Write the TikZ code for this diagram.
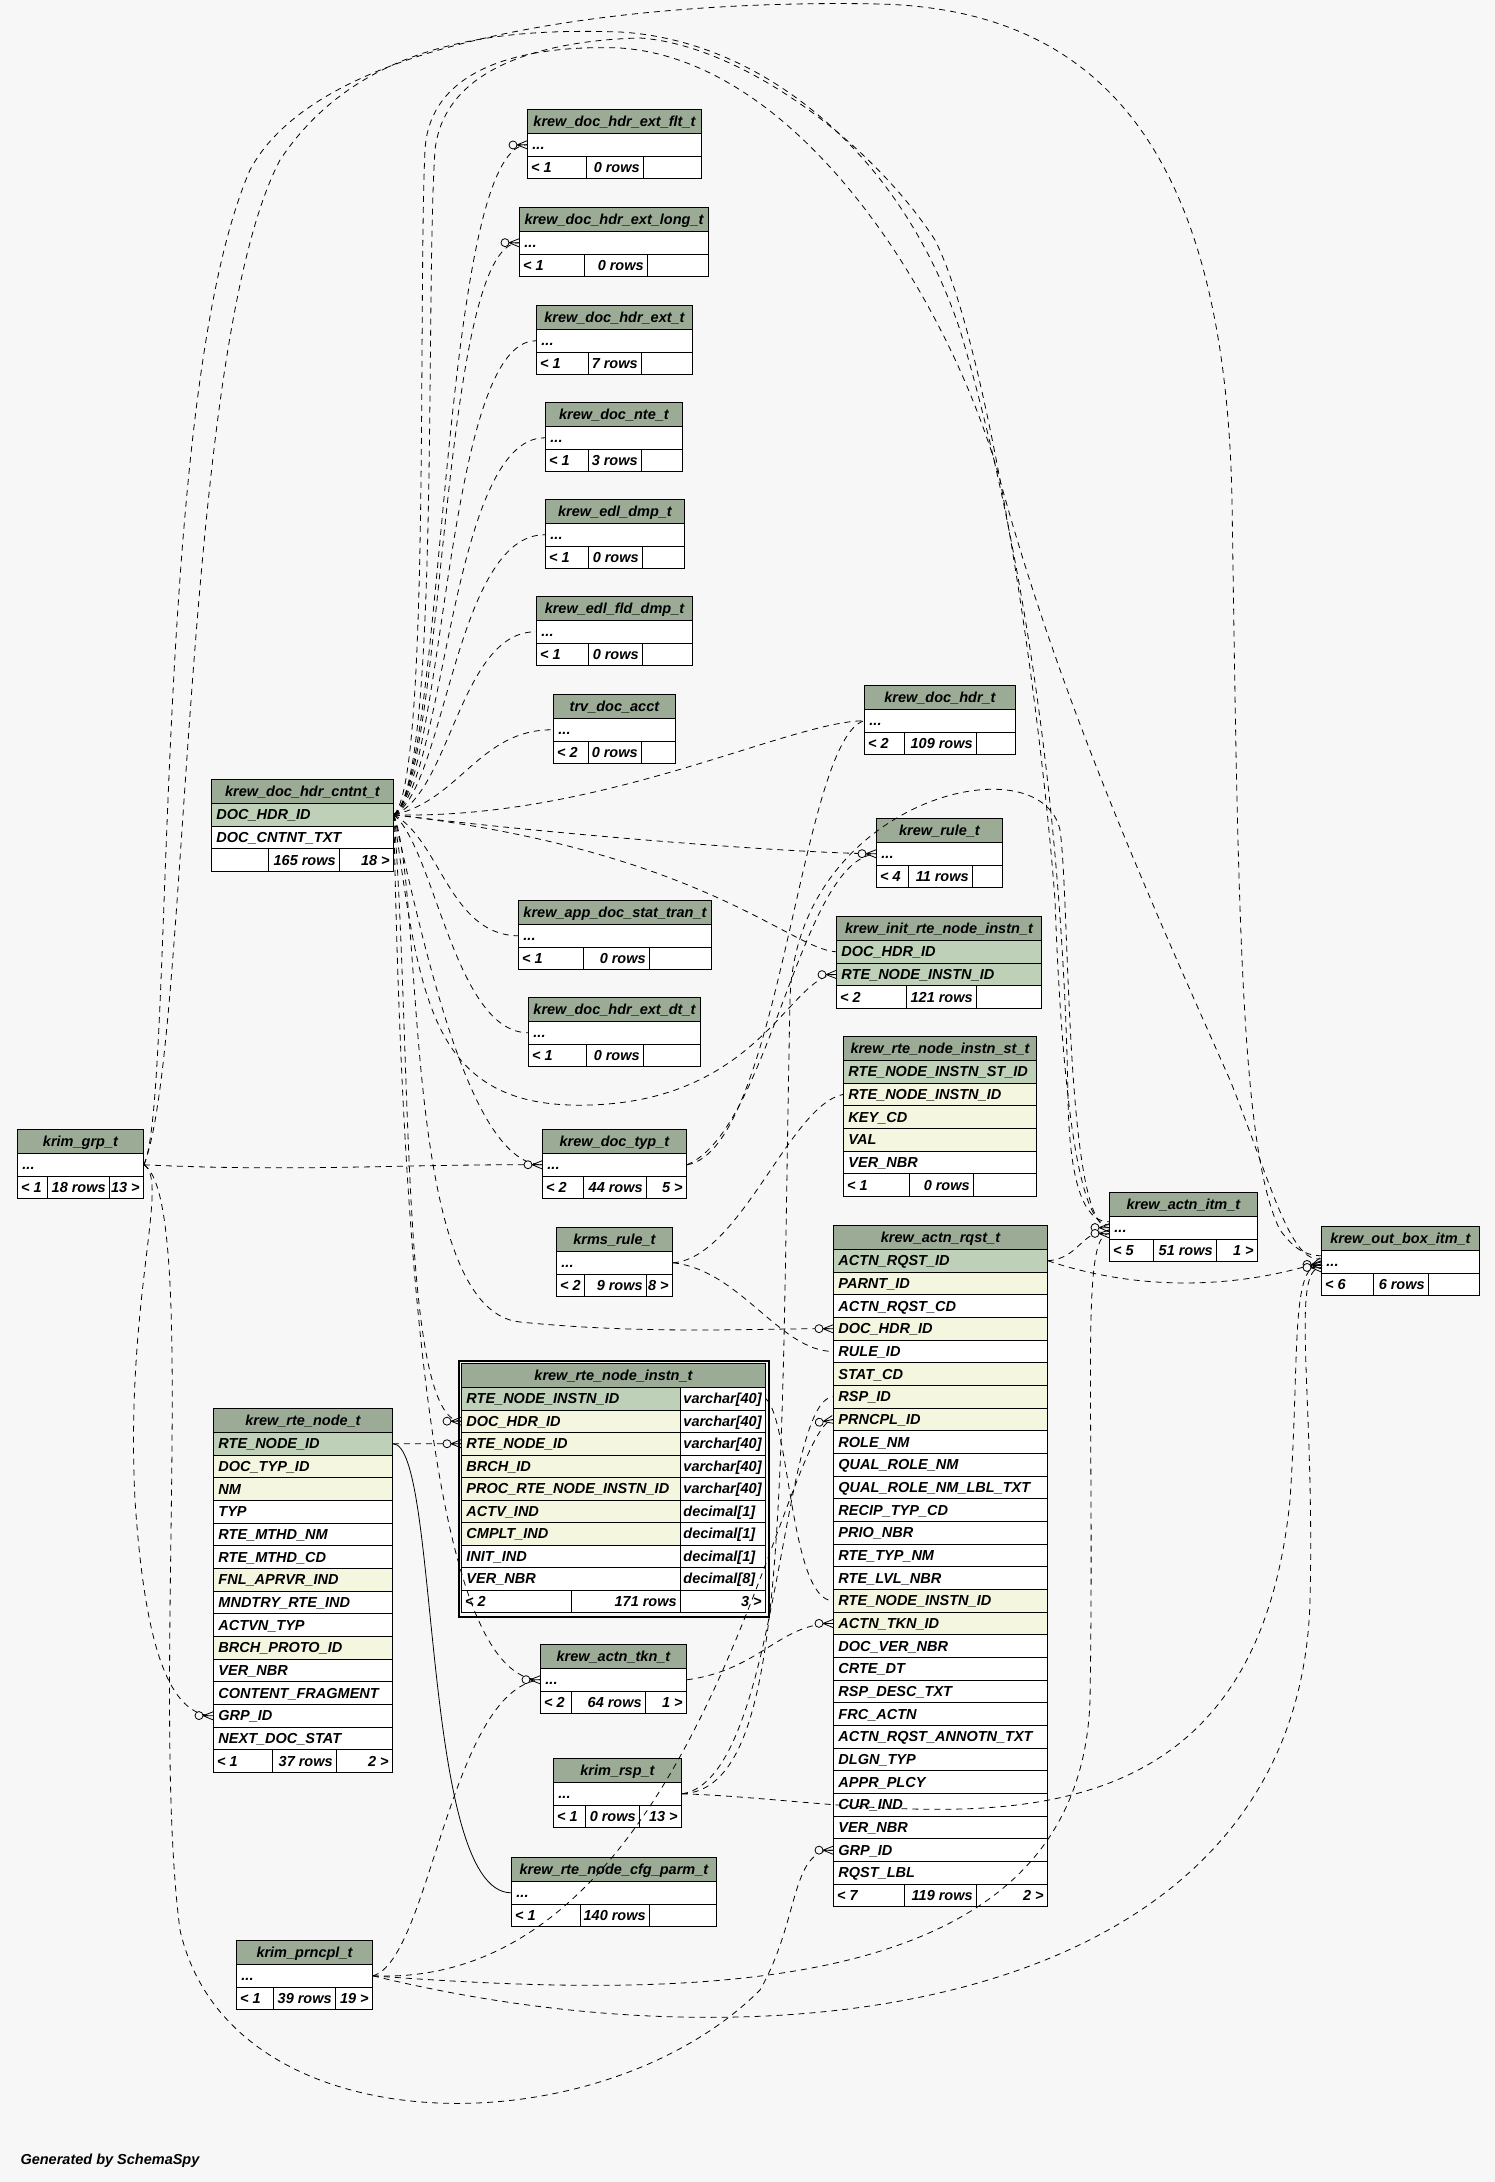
\documentclass[tikz,border=0pt]{standalone}
\usepackage{fontspec}
\setmainfont{Liberation Sans}
\usetikzlibrary{decorations.markings}
\definecolor{bg}{HTML}{F7F7F7}
\definecolor{hdr}{HTML}{9BAB96}
\definecolor{pk}{HTML}{BED1B8}
\definecolor{ix}{HTML}{F5F6DF}
\newcommand\tf{\fontsize{14.5}{17}\selectfont\bfseries\itshape}
\newcommand\ddd{...}
\tikzset{
  x=1pt, y=-1pt,
  cell/.style={draw=black, line width=0.9pt, inner ysep=0pt, minimum height=22.67pt, anchor=north west, font=\tf, text height=12pt, text depth=2pt},
  ctext/.style={font=\tf, inner sep=0pt, text height=12pt, text depth=2pt},
  imp/.style={draw=black, line width=0.8pt, dash pattern=on 6pt off 5pt},
  real/.style={draw=black, line width=0.8pt},
  crow/.style={postaction={decorate, decoration={markings, mark=at position 1 with {
      \draw[solid, line width=0.8pt] (-10pt,0pt) -- (0pt,4pt) (-10pt,0pt) -- (0pt,-4pt) (-10pt,0pt) -- (0pt,0pt);
      \draw[solid, line width=0.8pt, fill=bg] (-14pt,0pt) circle (4pt);}}}},
  onebar/.style={postaction={decorate, decoration={markings, mark=at position 1 with {
      \draw[solid, line width=1.4pt] (-4pt,-5pt) -- (-4pt,5pt);
      \draw[solid, line width=0.8pt] (-10pt,0pt) -- (0pt,0pt);
      \draw[solid, line width=0.8pt, fill=bg] (-14pt,0pt) circle (4pt);}}}},
}
\newcommand\mktab[6]{%
  \xdef\tabxa{#2}\xdef\tabxb{#3}\xdef\tabtop{#4}%
  \pgfmathsetmacro\tw{#3-#2}%
  \pgfmathsetmacro\tww{#3-#2-10}%
  \node[cell, fill=hdr, minimum width=\tw pt, minimum height=24pt, inner xsep=0pt] (#1-h) at (#2,#4) {#5};
  \foreach \rowtxt/\rowcol [count=\i] in {#6} {
    \pgfmathsetmacro\yy{#4+24+(\i-1)*22.67}
    \node[cell, fill=\rowcol, text width=\tww pt, inner xsep=5pt, align=left] (#1-\i) at (#2,\yy) {\rowtxt};
    \xdef\tabn{\i}
  }
}
\newcommand\mkstats[6]{%
  \pgfmathsetmacro\yy{\tabtop+24+\tabn*22.67}%
  \pgfmathsetmacro\wa{#2-\tabxa}%
  \pgfmathsetmacro\wb{#3-#2}%
  \pgfmathsetmacro\wc{\tabxb-#3}%
  \node[cell, fill=white, minimum width=\wa pt, inner xsep=0pt] (#1-sa) at (\tabxa,\yy) {};
  \node[cell, fill=white, minimum width=\wb pt, inner xsep=0pt] (#1-sb) at (#2,\yy) {};
  \node[cell, fill=white, minimum width=\wc pt, inner xsep=0pt] (#1-sc) at (#3,\yy) {};
  \node[ctext, anchor=west] (#1-sat) at ([xshift=4pt]#1-sa.west) {#4};
  \node[ctext, anchor=east] (#1-sbt) at ([xshift=-4pt]#1-sb.east) {#5};
  \node[ctext, anchor=east] (#1-sct) at ([xshift=-4pt]#1-sc.east) {#6};
}
\begin{document}
\catcode`\_=12
\begin{tikzpicture}
\useasboundingbox (0,0) rectangle (1495,2182);
\fill[bg] (0,0) rectangle (1495,2182);

% ---------- tables ----------
\mktab{flt}{527}{701}{109}{krew_doc_hdr_ext_flt_t}{\ddd/white}
\mkstats{flt}{586}{643}{< 1}{0 rows}{}
\mktab{long}{519}{708}{207}{krew_doc_hdr_ext_long_t}{\ddd/white}
\mkstats{long}{584}{647}{< 1}{0 rows}{}
\mktab{ext}{536}{692}{305}{krew_doc_hdr_ext_t}{\ddd/white}
\mkstats{ext}{588}{641}{< 1}{7 rows}{}
\mktab{nte}{545}{682}{402}{krew_doc_nte_t}{\ddd/white}
\mkstats{nte}{588}{641}{< 1}{3 rows}{}
\mktab{edl}{545}{684}{499}{krew_edl_dmp_t}{\ddd/white}
\mkstats{edl}{588}{642}{< 1}{0 rows}{}
\mktab{fld}{536}{692}{596}{krew_edl_fld_dmp_t}{\ddd/white}
\mkstats{fld}{588}{642}{< 1}{0 rows}{}
\mktab{trv}{553}{675}{694}{trv_doc_acct}{\ddd/white}
\mkstats{trv}{588}{641}{< 2}{0 rows}{}
\mktab{dh}{864}{1015}{685}{krew_doc_hdr_t}{\ddd/white}
\mkstats{dh}{904}{976}{< 2}{109 rows}{}
\mktab{cn}{211}{393}{779}{krew_doc_hdr_cntnt_t}{DOC_HDR_ID/pk,DOC_CNTNT_TXT/white}
\mkstats{cn}{268}{339}{}{165 rows}{18 >}
\mktab{rule}{876}{1002}{818}{krew_rule_t}{\ddd/white}
\mkstats{rule}{908}{972}{< 4}{11 rows}{}
\mktab{app}{518}{711}{900}{krew_app_doc_stat_tran_t}{\ddd/white}
\mkstats{app}{583}{649}{< 1}{0 rows}{}
\mktab{init}{836}{1041}{916}{krew_init_rte_node_instn_t}{DOC_HDR_ID/pk,RTE_NODE_INSTN_ID/pk}
\mkstats{init}{906}{976}{< 2}{121 rows}{}
\mktab{edt}{528}{700}{997}{krew_doc_hdr_ext_dt_t}{\ddd/white}
\mkstats{edt}{586}{643}{< 1}{0 rows}{}
\mktab{st}{843}{1036}{1036}{krew_rte_node_instn_st_t}{RTE_NODE_INSTN_ST_ID/pk,RTE_NODE_INSTN_ID/ix,KEY_CD/ix,VAL/ix,VER_NBR/white}
\mkstats{st}{909}{973}{< 1}{0 rows}{}
\mktab{grp}{17}{143}{1129}{krim_grp_t}{\ddd/white}
\mkstats{grp}{47}{109}{< 1}{18 rows}{13 >}
\mktab{typ}{542}{686}{1129}{krew_doc_typ_t}{\ddd/white}
\mkstats{typ}{583}{646}{< 2}{44 rows}{5 >}
\mktab{itm}{1109}{1257}{1192}{krew_actn_itm_t}{\ddd/white}
\mkstats{itm}{1153}{1216}{< 5}{51 rows}{1 >}
\mktab{krms}{556}{672}{1227}{krms_rule_t}{\ddd/white}
\mkstats{krms}{584}{646}{< 2}{9 rows}{8 >}
\mktab{obx}{1321}{1479}{1226}{krew_out_box_itm_t}{\ddd/white}
\mkstats{obx}{1373}{1428}{< 6}{6 rows}{}
\mktab{rq}{833}{1047}{1225}{krew_actn_rqst_t}{ACTN_RQST_ID/pk,PARNT_ID/ix,ACTN_RQST_CD/white,DOC_HDR_ID/ix,RULE_ID/white,STAT_CD/ix,RSP_ID/ix,PRNCPL_ID/ix,ROLE_NM/white,QUAL_ROLE_NM/white,QUAL_ROLE_NM_LBL_TXT/white,RECIP_TYP_CD/white,PRIO_NBR/white,RTE_TYP_NM/white,RTE_LVL_NBR/white,RTE_NODE_INSTN_ID/ix,ACTN_TKN_ID/ix,DOC_VER_NBR/white,CRTE_DT/white,RSP_DESC_TXT/white,FRC_ACTN/white,ACTN_RQST_ANNOTN_TXT/white,DLGN_TYP/white,APPR_PLCY/white,CUR_IND/white,VER_NBR/white,GRP_ID/white,RQST_LBL/white}
\mkstats{rq}{904}{976}{< 7}{119 rows}{2 >}
\mktab{rn}{213}{392}{1408}{krew_rte_node_t}{RTE_NODE_ID/pk,DOC_TYP_ID/ix,NM/ix,TYP/white,RTE_MTHD_NM/white,RTE_MTHD_CD/white,FNL_APRVR_IND/ix,MNDTRY_RTE_IND/white,ACTVN_TYP/white,BRCH_PROTO_ID/ix,VER_NBR/white,CONTENT_FRAGMENT/white,GRP_ID/white,NEXT_DOC_STAT/white}
\mkstats{rn}{272}{336}{< 1}{37 rows}{2 >}
\mktab{tkn}{540}{686}{1644}{krew_actn_tkn_t}{\ddd/white}
\mkstats{tkn}{571}{645}{< 2}{64 rows}{1 >}
\mktab{rsp}{553}{681}{1758}{krim_rsp_t}{\ddd/white}
\mkstats{rsp}{585}{639}{< 1}{0 rows}{13 >}
\mktab{cfg}{511}{716}{1857}{krew_rte_node_cfg_parm_t}{\ddd/white}
\mkstats{cfg}{580}{649}{< 1}{140 rows}{}
\mktab{pr}{236}{372}{1940}{krim_prncpl_t}{\ddd/white}
\mkstats{pr}{273}{335}{< 1}{39 rows}{19 >}

% focused table krew_rte_node_instn_t
\node[draw=black, line width=1.6pt, minimum width=310pt, minimum height=256pt, anchor=north west, inner sep=0pt] (ni) at (458,1360) {};
\node[cell, fill=hdr, minimum width=304pt, minimum height=24pt, inner xsep=0pt] (ni-h) at (461,1363) {krew_rte_node_instn_t};
\foreach \rowtxt/\rowcol/\typ [count=\i] in {RTE_NODE_INSTN_ID/pk/varchar[40],DOC_HDR_ID/ix/varchar[40],RTE_NODE_ID/ix/varchar[40],BRCH_ID/ix/varchar[40],PROC_RTE_NODE_INSTN_ID/ix/varchar[40],ACTV_IND/ix/decimal[1],CMPLT_IND/ix/decimal[1],INIT_IND/white/decimal[1],VER_NBR/white/decimal[8]} {
  \pgfmathsetmacro\yy{1363+24+(\i-1)*22.5}
  \node[cell, minimum height=22.5pt, fill=\rowcol, text width=209pt, inner xsep=5pt, align=left] (ni-\i) at (461,\yy) {\rowtxt};
  \node[cell, minimum height=22.5pt, fill=white, text width=79pt, inner xsep=3pt, align=left] (ni-\i t) at (680,\yy) {\typ};
}
\node[cell, minimum height=22.5pt, fill=white, minimum width=110pt, inner xsep=0pt] (ni-sa) at (461,1589.5) {};
\node[cell, minimum height=22.5pt, fill=white, minimum width=109pt, inner xsep=0pt] (ni-sb) at (571,1589.5) {};
\node[cell, minimum height=22.5pt, fill=white, minimum width=85pt, inner xsep=0pt] (ni-sc) at (680,1589.5) {};
\node[ctext, anchor=west] (ni-sat) at ([xshift=4pt]ni-sa.west) {< 2};
\node[ctext, anchor=east] (ni-sbt) at ([xshift=-4pt]ni-sb.east) {171 rows};
\node[ctext, anchor=east] (ni-sct) at ([xshift=-4pt]ni-sc.east) {3 >};

% ---------- relationships ----------
% from krew_doc_hdr_cntnt_t
\draw[imp,crow] (cn-1.east) .. controls (445,780) and (440,146) .. (flt-1.west);
\draw[imp,crow] (cn-1.east) .. controls (445,780) and (440,242) .. (long-1.west);
\draw[imp,crow] (cn-1.east) .. controls (445,780) and (445,340) .. (ext-1.west);
\draw[imp,crow] (cn-1.east) .. controls (445,785) and (450,437) .. (nte-1.west);
\draw[imp,onebar] (cn-1.east) .. controls (445,790) and (455,534) .. (edl-1.west);
\draw[imp,crow] (cn-1.east) .. controls (450,795) and (460,631) .. (fld-1.west);
\draw[imp,crow] (cn-1.east) .. controls (460,800) and (480,729) .. (trv-1.west);
\draw[imp,crow] (cn-1.east) .. controls (600,820) and (790,721) .. (dh-1.west);
\draw[imp,crow] (cn-1.east) .. controls (560,835) and (790,853) .. (rule-1.west);
\draw[imp,crow] (cn-1.east) .. controls (440,840) and (450,935) .. (app-1.west);
\draw[imp,crow] (cn-1.east) .. controls (435,850) and (455,1032) .. (edt-1.west);
\draw[imp,crow] (cn-1.east) .. controls (700,850) and (790,949) .. (init-1.west);
\draw[imp,crow] (cn-1.east) .. controls (420,1000) and (430,1110) .. (590,1105) .. controls (760,1100) and (790,975) .. (init-2.west);
\draw[imp,crow] (cn-1.east) .. controls (425,950) and (470,1164) .. (typ-1.west);
\draw[imp,crow] (cn-1.east) .. controls (425,900) and (400,1310) .. (520,1322) .. controls (650,1335) and (760,1328) .. (rq-4.west);
\draw[imp,crow] (cn-1.east) .. controls (412,1050) and (400,1421) .. (ni-2.west);
\draw[imp,crow] (cn-1.east) .. controls (405,1450) and (460,1679) .. (tkn-1.west);
\draw[imp,crow] (cn-1.east) .. controls (440,780) and (425,300) .. (435,150) .. controls (445,60) and (560,40) .. (640,38) .. controls (740,45) and (870,140) .. (935,240) .. controls (990,350) and (1040,700) .. (1055,900) .. controls (1062,1100) and (1080,1230) .. ([yshift=3pt]itm-1.west);
\draw[imp,crow] (cn-1.east) .. controls (430,780) and (418,300) .. (425,150) .. controls (430,60) and (540,45) .. (620,48) .. controls (800,60) and (950,300) .. (1000,480) .. controls (1060,700) and (1150,900) .. (1230,1080) .. controls (1270,1180) and (1290,1264) .. ([yshift=3pt]obx-1.west);
% from krim_grp_t
\draw[imp,crow] (grp-1.east) .. controls (300,1172) and (400,1164) .. (typ-1.west);
\draw[imp,crow] (grp-1.east) .. controls (170,1180) and (125,1300) .. (135,1500) .. controls (145,1650) and (170,1715) .. (rn-13.west);
\draw[imp,crow] (grp-1.east) .. controls (200,1200) and (150,1700) .. (180,1930) .. controls (230,2150) and (600,2150) .. (760,1990) .. controls (800,1920) and (790,1850) .. (rq-27.west);
\draw[imp,crow] (grp-1.east) .. controls (190,1050) and (180,350) .. (280,160) .. controls (360,40) and (500,28) .. (620,32) .. controls (760,40) and (900,150) .. (960,330) .. controls (1040,600) and (1065,900) .. (1068,1100) .. controls (1070,1200) and (1090,1222) .. ([yshift=6pt]itm-1.west);
\draw[imp,crow] (grp-1.east) .. controls (175,1100) and (150,400) .. (250,170) .. controls (330,20) and (700,0) .. (880,4) .. controls (1100,10) and (1225,150) .. (1232,500) .. controls (1238,900) and (1240,1150) .. (1280,1230) .. controls (1295,1250) and (1305,1255) .. ([yshift=6pt]obx-1.west);
% from krew_rte_node_t
\draw[imp,crow] (rn-1.east) -- (ni-3.west);
\draw[real,crow] (rn-1.east) .. controls (440,1443) and (420,1892) .. (cfg-1.west);
% from krew_rte_node_instn_t
\draw[imp,crow] (ni-1t.east) .. controls (790,1420) and (790,1600) .. (rq-16.west);
% from krew_doc_typ_t
\draw[imp,crow] (typ-1.east) .. controls (780,1150) and (800,740) .. (dh-1.west);
\draw[imp,crow] (typ-1.east) .. controls (770,1130) and (800,860) .. (rule-1.west);
% from krms_rule_t
\draw[imp,crow] (krms-1.east) .. controls (740,1270) and (780,1351) .. (rq-5.west);
\draw[imp,crow] (krms-1.east) .. controls (740,1258) and (790,1105) .. (st-2.west);
% from krew_actn_rqst_t
\draw[imp,crow] (rq-1.east) .. controls (1080,1258) and (1080,1231) .. ([yshift=-3pt]itm-1.west);
\draw[imp,crow] (rq-1.east) .. controls (1150,1295) and (1250,1285) .. (obx-1.west);
% from krim_rsp_t
\draw[imp,crow] (rsp-1.east) .. controls (780,1780) and (780,1400) .. (rq-7.west);
\draw[imp,crow] (rsp-1.east) .. controls (790,1790) and (780,1500) .. (790,1000) .. controls (795,800) and (1040,740) .. (1060,830) .. controls (1070,900) and (1065,1227) .. (itm-1.west);
\draw[imp,crow] (rsp-1.east) .. controls (900,1800) and (1250,1900) .. (1290,1500) .. controls (1300,1350) and (1290,1264) .. ([yshift=-3pt]obx-1.west);
% from krim_prncpl_t
\draw[imp,crow] (pr-1.east) .. controls (430,1960) and (450,1690) .. (tkn-1.west);
\draw[imp,crow] (pr-1.east) .. controls (700,1990) and (780,1430) .. (rq-8.west);
\draw[imp,crow] (pr-1.east) .. controls (700,2000) and (1080,2000) .. (1090,1700) .. controls (1095,1400) and (1080,1233) .. ([yshift=-6pt]itm-1.west);
\draw[imp,crow] (pr-1.east) .. controls (800,2080) and (1300,2000) .. (1310,1600) .. controls (1315,1400) and (1290,1267) .. ([yshift=-6pt]obx-1.west);
% from krew_actn_tkn_t
\draw[imp,crow] (tkn-1.east) .. controls (760,1670) and (780,1623) .. (rq-17.west);

\node[font=\tf, anchor=west] (gen) at (17,2161) {Generated by SchemaSpy};
\end{tikzpicture}
\end{document}
